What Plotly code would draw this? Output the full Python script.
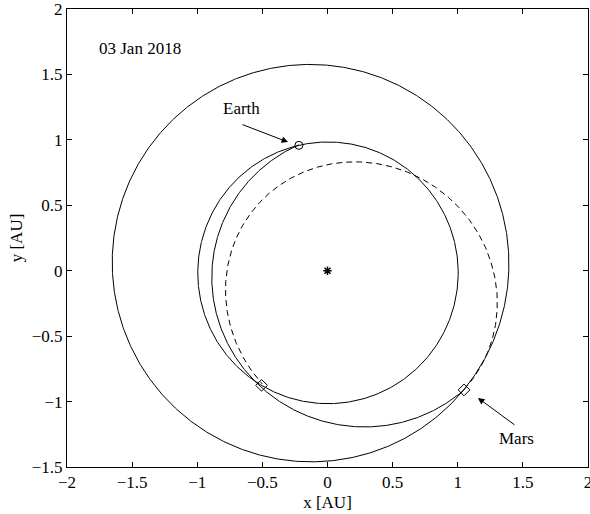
import numpy as np
import plotly.graph_objects as go

# ---- data (AU, degrees) ----
orbit_names = ["Earth orbit", "Mars orbit", "Transfer", "Return"]
orbit_p = [0.99972, 1.5107, 1.0934, 0.9615]      # semi-latus rectum
orbit_e = [0.0167, 0.0934, 0.239, 0.3077]       # eccentricity
orbit_w = [102.9, 336.0, 166.2, 142.8]          # longitude of perihelion
orbit_t0 = [0.0, 0.0, 102.9, -41.0]             # start true longitude
orbit_t1 = [360.0, 360.0, 319.0, 240.0]         # end true longitude
orbit_dash = ["solid", "solid", "solid", "dash"]

earth_x = [-0.2196]
earth_y = [0.958]
diamond_x = [1.048, -0.506]
diamond_y = [-0.911, -0.876]
sun_x = [0.0]
sun_y = [0.0]

date_label = "03 Jan 2018"
x_ticks = [-2, -1.5, -1, -0.5, 0, 0.5, 1, 1.5, 2]
y_ticks = [-1.5, -1, -0.5, 0, 0.5, 1, 1.5, 2]

FONT = "Liberation Serif, Times New Roman, serif"
FS = 17

fig = go.Figure()

for name, p, e, w, t0, t1, d in zip(orbit_names, orbit_p, orbit_e, orbit_w,
                                     orbit_t0, orbit_t1, orbit_dash):
    th = np.radians(np.linspace(t0, t1, 721))
    r = p / (1 + e * np.cos(th - np.radians(w)))
    fig.add_trace(go.Scatter(
        x=r * np.cos(th), y=r * np.sin(th), mode="lines", name=name,
        line=dict(color="black", width=1,
                  dash="6px,4px" if d == "dash" else "solid"),
        hoverinfo="skip"))

fig.add_trace(go.Scatter(x=earth_x, y=earth_y, mode="markers",
                         marker=dict(symbol="circle-open", size=8, color="black",
                                     line=dict(width=1, color="black"))))
fig.add_trace(go.Scatter(x=diamond_x, y=diamond_y, mode="markers",
                         marker=dict(symbol="diamond-open", size=9, color="black",
                                     line=dict(width=1, color="black"))))
fig.add_trace(go.Scatter(x=sun_x, y=sun_y, mode="markers",
                         marker=dict(symbol="asterisk-open", size=7, color="black",
                                     line=dict(width=1.5, color="black"))))

# annotations
fig.add_annotation(x=-0.303, y=0.983, ax=-0.664, ay=1.121, xref="x", yref="y",
                   axref="x", ayref="y", text="", showarrow=True,
                   arrowhead=2, arrowsize=1.3, arrowwidth=1, arrowcolor="black")
fig.add_annotation(x=-0.658, y=1.243, text="Earth", showarrow=False,
                   font=dict(family=FONT, size=FS, color="black"))
fig.add_annotation(x=1.155, y=-0.972, ax=1.447, ay=-1.186, xref="x", yref="y",
                   axref="x", ayref="y", text="", showarrow=True,
                   arrowhead=2, arrowsize=1.3, arrowwidth=1, arrowcolor="black")
fig.add_annotation(x=1.452, y=-1.281, text="Mars", showarrow=False,
                   font=dict(family=FONT, size=FS, color="black"))
fig.add_annotation(x=-1.768, y=1.70, text=date_label, showarrow=False,
                   xanchor="left", font=dict(family=FONT, size=FS, color="black"))

axis_common = dict(showgrid=False, zeroline=False, showline=True, mirror="ticks",
                   linecolor="black", linewidth=1, ticks="inside", ticklen=5,
                   tickcolor="black", tickwidth=1, automargin=False,
                   ticklabeloverflow="allow",
                   tickfont=dict(family=FONT, size=FS, color="black"),
                   title_font=dict(family=FONT, size=FS, color="black"))

fig.update_layout(
    width=590, height=514,
    margin=dict(l=67, r=2, t=9, b=47),
    paper_bgcolor="white", plot_bgcolor="white",
    showlegend=False,
    xaxis=dict(range=[-2, 2], tickvals=x_ticks, title_text="x [AU]",
               title_standoff=4, **axis_common),
    yaxis=dict(range=[-1.5, 2], tickvals=y_ticks, title_text="y [AU]",
               title_standoff=4, **axis_common),
)

fig.write_html("out.html")
